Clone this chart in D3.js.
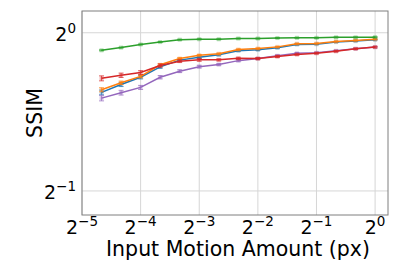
<!DOCTYPE html>
<html>
<head>
<meta charset="utf-8">
<script src="https://cdn.jsdelivr.net/npm/d3@7"></script>
<style>
body { margin: 0; background: #fff; }
text { font-family: "DejaVu Sans", sans-serif; }
</style>
</head>
<body>
<div id="chart"></div>
<script>
// motion amounts: 2^(k/3), k = -14..0
var motion = [-14,-13,-12,-11,-10,-9,-8,-7,-6,-5,-4,-3,-2,-1,0].map(function (k) { return Math.pow(2, k / 3); });
var blue   = [0.770,0.797,0.823,0.861,0.887,0.898,0.908,0.924,0.928,0.936,0.950,0.951,0.960,0.964,0.970];
var orange = [0.779,0.803,0.826,0.869,0.893,0.906,0.912,0.929,0.933,0.940,0.953,0.954,0.962,0.967,0.972];
var green  = [0.926,0.937,0.950,0.960,0.970,0.972,0.972,0.975,0.975,0.977,0.978,0.978,0.980,0.980,0.981];
var purple = [0.751,0.769,0.787,0.823,0.845,0.862,0.870,0.885,0.893,0.904,0.914,0.916,0.924,0.932,0.939];
var red    = [0.819,0.830,0.840,0.866,0.883,0.888,0.888,0.894,0.893,0.901,0.909,0.914,0.922,0.932,0.939];
var errBlue   = [0.008,0.007,0.006,0.005,0.004,0.004,0.004,0.003,0.003,0.003,0.003,0.002,0.002,0.002,0.002];
var errOrange = [0.007,0.006,0.005,0.004,0.004,0.003,0.003,0.003,0.003,0.002,0.002,0.002,0.002,0.002,0.002];
var errGreen  = [0.002,0.002,0.002,0.002,0.002,0.002,0.002,0.002,0.002,0.002,0.002,0.002,0.002,0.002,0.002];
var errPurple = [0.009,0.008,0.007,0.006,0.005,0.005,0.004,0.004,0.004,0.004,0.003,0.003,0.003,0.003,0.003];
var errRed    = [0.009,0.008,0.007,0.006,0.005,0.005,0.004,0.004,0.004,0.004,0.003,0.003,0.003,0.003,0.003];
var xTicks = [-5,-4,-3,-2,-1,0];
var yTicks = [-1,0];

var series = [
  { values: blue,   err: errBlue,   color: "#1f77b4" },
  { values: orange, err: errOrange, color: "#ff7f0e" },
  { values: green,  err: errGreen,  color: "#2ca02c" },
  { values: purple, err: errPurple, color: "#9467bd" },
  { values: red,    err: errRed,    color: "#d62728" }
];

(function () {
var width = 415, height = 264;
var mLeft = 82, mRight = 388, mTop = 11, mBottom = 215;

var svg = d3.select("#chart").append("svg")
    .attr("width", width)
    .attr("height", height);

var x = d3.scaleLog().base(2)
    .domain([Math.pow(2, -5), Math.pow(2, 0.22)])
    .range([mLeft, mRight]);
var y = d3.scaleLog().base(2)
    .domain([0.45, 1.1])
    .range([mBottom, mTop]);

// grid
svg.append("g").selectAll("line")
    .data(xTicks)
    .enter().append("line")
    .attr("x1", function (d) { return x(Math.pow(2, d)); })
    .attr("x2", function (d) { return x(Math.pow(2, d)); })
    .attr("y1", mTop).attr("y2", mBottom)
    .attr("stroke", "#d6d6d6").attr("stroke-width", 1);
svg.append("g").selectAll("line")
    .data(yTicks)
    .enter().append("line")
    .attr("x1", mLeft).attr("x2", mRight)
    .attr("y1", function (d) { return y(Math.pow(2, d)); })
    .attr("y2", function (d) { return y(Math.pow(2, d)); })
    .attr("stroke", "#d6d6d6").attr("stroke-width", 1);

var line = d3.line()
    .x(function (d, i) { return x(motion[i]); })
    .y(function (d) { return y(d); });

series.forEach(function (s) {
  var g = svg.append("g");
  g.append("path")
      .datum(s.values)
      .attr("d", line)
      .attr("fill", "none")
      .attr("stroke", s.color)
      .attr("stroke-width", 1.5);
  var eb = g.selectAll(".eb")
      .data(s.values)
      .enter().append("g");
  eb.append("line")
      .attr("x1", function (d, i) { return x(motion[i]); })
      .attr("x2", function (d, i) { return x(motion[i]); })
      .attr("y1", function (d, i) { return y(d - s.err[i]); })
      .attr("y2", function (d, i) { return y(d + s.err[i]); })
      .attr("stroke", s.color).attr("stroke-width", 1).attr("opacity", 0.7);
  [-1, 1].forEach(function (sign) {
    eb.append("line")
        .attr("x1", function (d, i) { return x(motion[i]) - 2.5; })
        .attr("x2", function (d, i) { return x(motion[i]) + 2.5; })
        .attr("y1", function (d, i) { return y(d + sign * s.err[i]); })
        .attr("y2", function (d, i) { return y(d + sign * s.err[i]); })
        .attr("stroke", s.color).attr("stroke-width", 1).attr("opacity", 0.7);
  });
  eb.append("rect")
      .attr("x", function (d, i) { return x(motion[i]) - 2; })
      .attr("y", function (d) { return y(d) - 2; })
      .attr("width", 4).attr("height", 4)
      .attr("fill", s.color).attr("opacity", 0.35);
});

// frame
svg.append("rect")
    .attr("x", mLeft).attr("y", mTop)
    .attr("width", mRight - mLeft).attr("height", mBottom - mTop)
    .attr("fill", "none").attr("stroke", "#7f7f7f").attr("stroke-width", 1);

// tick labels with superscripts
function powLabel(sel, k) {
  sel.append("tspan").text("2");
  sel.append("tspan")
      .attr("dy", -8)
      .attr("font-size", "13.5px")
      .text(k < 0 ? "\u2212" + (-k) : String(k));
}

svg.append("g").selectAll("text")
    .data(xTicks)
    .enter().append("text")
    .attr("x", function (d) { return x(Math.pow(2, d)); })
    .attr("y", 234)
    .attr("text-anchor", "middle")
    .attr("font-size", "19px")
    .attr("fill", "#000")
    .each(function (d) { powLabel(d3.select(this), d); });

svg.append("g").selectAll("text")
    .data(yTicks)
    .enter().append("text")
    .attr("x", 76)
    .attr("y", function (d) { return y(Math.pow(2, d)) + 8; })
    .attr("text-anchor", "end")
    .attr("font-size", "19px")
    .attr("fill", "#000")
    .each(function (d) { powLabel(d3.select(this), d); });

svg.append("text")
    .attr("x", (mLeft + mRight) / 2 + 3)
    .attr("y", 256)
    .attr("text-anchor", "middle")
    .attr("font-size", "20.5px")
    .text("Input Motion Amount (px)");

svg.append("text")
    .attr("transform", "translate(42," + ((mTop + mBottom) / 2) + ") rotate(-90)")
    .attr("text-anchor", "middle")
    .attr("font-size", "20.5px")
    .text("SSIM");
})();
</script>
</body>
</html>
